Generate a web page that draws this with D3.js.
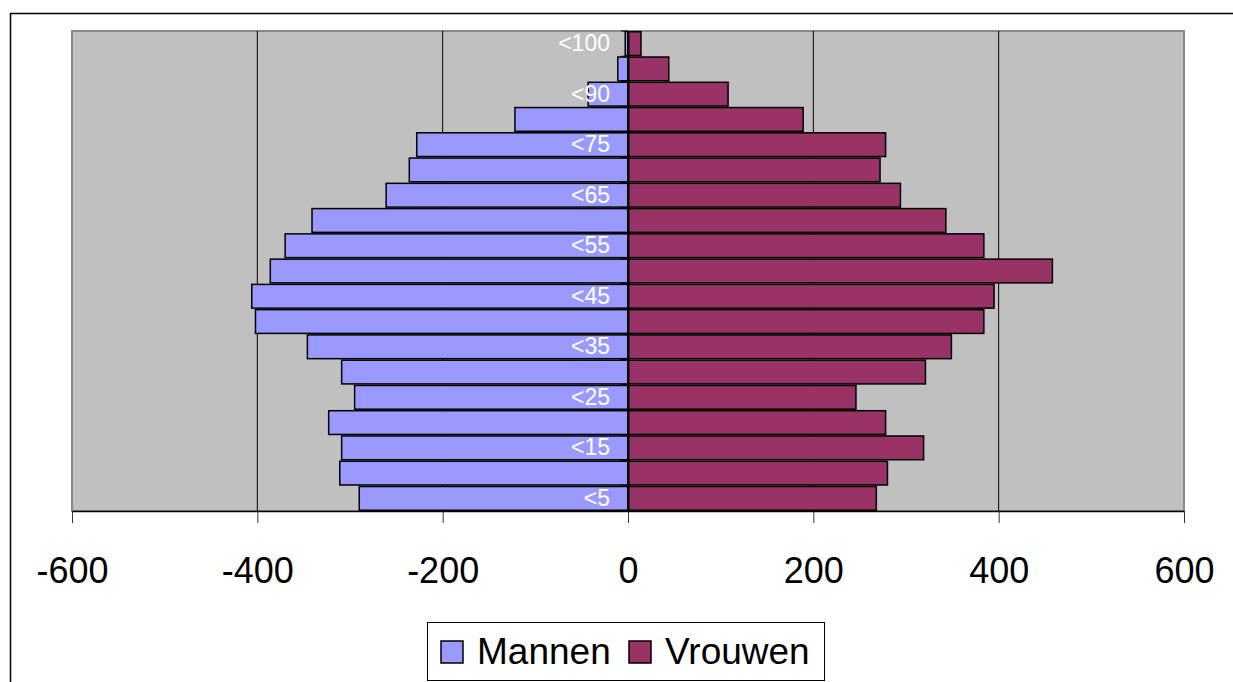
<!DOCTYPE html>
<html>
<head>
<meta charset="utf-8">
<script src="https://cdn.jsdelivr.net/npm/d3@7"></script>
<style>
  body { margin: 0; background: #fff; }
  svg { display: block; font-family: "Liberation Sans", Arial, sans-serif; }
</style>
</head>
<body>
<div id="chart"></div>
<script>
// age groups, bottom to top
const categories = ["<5", "<10", "<15", "<20", "<25", "<30", "<35", "<40", "<45", "<50",
  "<55", "<60", "<65", "<70", "<75", "<85", "<90", "<95", "<100"]
const mannen = [290, 311, 309, 323, 295, 309, 346, 402, 406, 386, 370, 341, 261, 236, 228, 122, 43, 11, 3]
const vrouwen = [268, 280, 319, 278, 246, 321, 349, 384, 395, 458, 384, 343, 294, 272, 278, 189, 108, 44, 14]
const xTicks = [-600, -400, -200, 0, 200, 400, 600]
const seriesNames = ["Mannen", "Vrouwen"]
const colors = ["#9999FF", "#993366"]

const width = 1233
const height = 682
const plot = { left: 72, right: 1184, top: 31, bottom: 511 }

const svg = d3.select("#chart").append("svg").attr("width", width).attr("height", height)

// outer chart frame (only top and left edges fall inside the picture)
svg.append("path")
  .attr("d", `M10.5,${height + 5}V13.5H${width + 5}`)
  .attr("fill", "none")
  .attr("stroke", "#000")
  .attr("stroke-width", 1.5)

const x = d3.scaleLinear().domain([-600, 600]).range([plot.left, plot.right])

const y = d3.scaleBand()
  .domain(categories.slice().reverse())
  .range([plot.top, plot.bottom])
  .paddingInner(0.06)
  .paddingOuter(0.03)

// plot area
svg.append("rect")
  .attr("x", plot.left)
  .attr("y", plot.top)
  .attr("width", plot.right - plot.left)
  .attr("height", plot.bottom - plot.top)
  .attr("fill", "#C0C0C0")
  .attr("stroke", "#888")
  .attr("stroke-width", 2)

// vertical gridlines
svg.append("g")
  .selectAll("line")
  .data(xTicks.filter((d) => d !== 0 && Math.abs(d) !== 600))
  .enter()
  .append("line")
  .attr("x1", (d) => x(d))
  .attr("x2", (d) => x(d))
  .attr("y1", plot.top)
  .attr("y2", plot.bottom)
  .attr("stroke", "#000")
  .attr("stroke-width", 1)

// small tick marks at category boundaries, left of the zero line
svg.append("g")
  .selectAll("line")
  .data(categories)
  .enter()
  .append("line")
  .attr("x1", x(0) - 7)
  .attr("x2", x(0))
  .attr("y1", (d) => y(d) - (y.step() * y.paddingInner()) / 2)
  .attr("y2", (d) => y(d) - (y.step() * y.paddingInner()) / 2)
  .attr("stroke", "#000")

// bars
const rows = categories.map((c, i) => ({ cat: c, m: mannen[i], v: vrouwen[i] }))

svg.append("g")
  .selectAll("rect")
  .data(rows)
  .enter()
  .append("rect")
  .attr("x", (d) => x(-d.m))
  .attr("y", (d) => y(d.cat))
  .attr("width", (d) => x(0) - x(-d.m))
  .attr("height", y.bandwidth())
  .attr("fill", colors[0])
  .attr("stroke", "#000")
  .attr("stroke-width", 1.5)

svg.append("g")
  .selectAll("rect")
  .data(rows)
  .enter()
  .append("rect")
  .attr("x", x(0))
  .attr("y", (d) => y(d.cat))
  .attr("width", (d) => x(d.v) - x(0))
  .attr("height", y.bandwidth())
  .attr("fill", colors[1])
  .attr("stroke", "#000")
  .attr("stroke-width", 1.5)

// x axis (plain hyphen for negatives, like the original)
const xAxis = svg.append("g")
  .attr("transform", `translate(0,${plot.bottom})`)
  .call(d3.axisBottom(x).tickValues(xTicks).tickSizeInner(12).tickSizeOuter(0).tickPadding(34)
    .tickFormat((d) => String(d)))
xAxis.select(".domain").attr("stroke", "#000").attr("stroke-width", 1.5)
xAxis.selectAll(".tick line").attr("stroke", "#333")
xAxis.selectAll("text").attr("font-size", 36).attr("fill", "#000").attr("font-family", "Liberation Sans, Arial, sans-serif")

// category axis on the zero line, every other label
const yAxis = svg.append("g")
  .attr("transform", `translate(${x(0)},0)`)
  .call(d3.axisLeft(y).tickSize(0).tickPadding(18)
    .tickFormat((d) => (categories.indexOf(d) % 2 === 0 ? d : "")))
yAxis.select(".domain").attr("stroke", "#000").attr("stroke-width", 2)
yAxis.selectAll("text").attr("font-size", 23).attr("fill", "#fff").attr("font-family", "Liberation Sans, Arial, sans-serif")

// legend
const legend = svg.append("g")
legend.append("rect")
  .attr("x", 427.5)
  .attr("y", 622.5)
  .attr("width", 397)
  .attr("height", 58)
  .attr("fill", "#fff")
  .attr("stroke", "#000")
  .attr("stroke-width", 1)

const legendX = [441, 629]
const items = legend.selectAll("g.item")
  .data(seriesNames)
  .enter()
  .append("g")
  .attr("class", "item")
  .attr("transform", (_, i) => `translate(${legendX[i]},641)`)

items.append("rect")
  .attr("width", 22)
  .attr("height", 22)
  .attr("fill", (_, i) => colors[i])
  .attr("stroke", "#000")
  .attr("stroke-width", 1.5)

items.append("text")
  .attr("x", 36)
  .attr("y", 23)
  .attr("font-size", 37)
  .text((d) => d)
</script>
</body>
</html>
